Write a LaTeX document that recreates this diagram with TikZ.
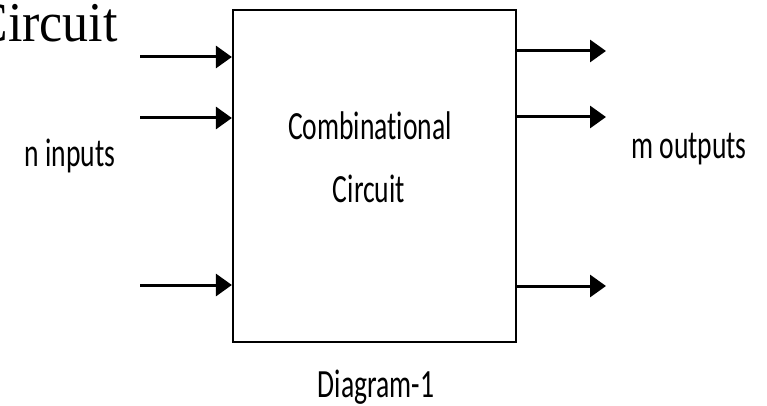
\documentclass[tikz,border=0pt]{standalone}
\usepackage{fontspec}
\setmainfont{Liberation Serif}
\newfontfamily\calibfont[Ligatures={NoCommon,NoDiscretionary,NoRare}]{Carlito}
\usetikzlibrary{arrows.meta}
\newcommand{\talltext}[1]{\scalebox{1}[1.45]{#1}}
\begin{document}
\begin{tikzpicture}[x=1pt,y=-1pt,
  lbl/.style={inner sep=0pt, anchor=base, font=\calibfont\fontsize{27.6}{30}\selectfont},
  sig/.style={line width=3pt, -{Triangle[length=16pt,width=22pt]}}]
\useasboundingbox (0,0) rectangle (767,406);
\node[inner sep=0pt, anchor=base east, font=\fontsize{52}{56}\selectfont] (title) at (118,42) {\scalebox{1}[1.08]{Circuit}};
\node[draw, line width=2.2pt, minimum width=283pt, minimum height=332pt, inner sep=0pt] (box) at (374.5,176) {};
\node[lbl] (comb) at (370,140) {\talltext{Combinational}};
\node[lbl] (circ) at (369,202) {\talltext{Circuit}};
\node[lbl] (diag) at (376,397) {\talltext{Diagram-1}};
\node[lbl] (nin) at (70,166) {\talltext{n inputs}};
\node[lbl] (mout) at (689,158) {\talltext{m outputs}};
\coordinate (in1) at (140,57);
\coordinate (in2) at (140,118);
\coordinate (in3) at (140,285);
\coordinate (out1) at (606,51);
\coordinate (out2) at (606,117);
\coordinate (out3) at (606,286);
\draw[sig] (in1) -- (in1 -| box.west);
\draw[sig] (in2) -- (in2 -| box.west);
\draw[sig] (in3) -- (in3 -| box.west);
\draw[sig] (out1 -| box.east) -- (out1);
\draw[sig] (out2 -| box.east) -- (out2);
\draw[sig] (out3 -| box.east) -- (out3);
\end{tikzpicture}
\end{document}
